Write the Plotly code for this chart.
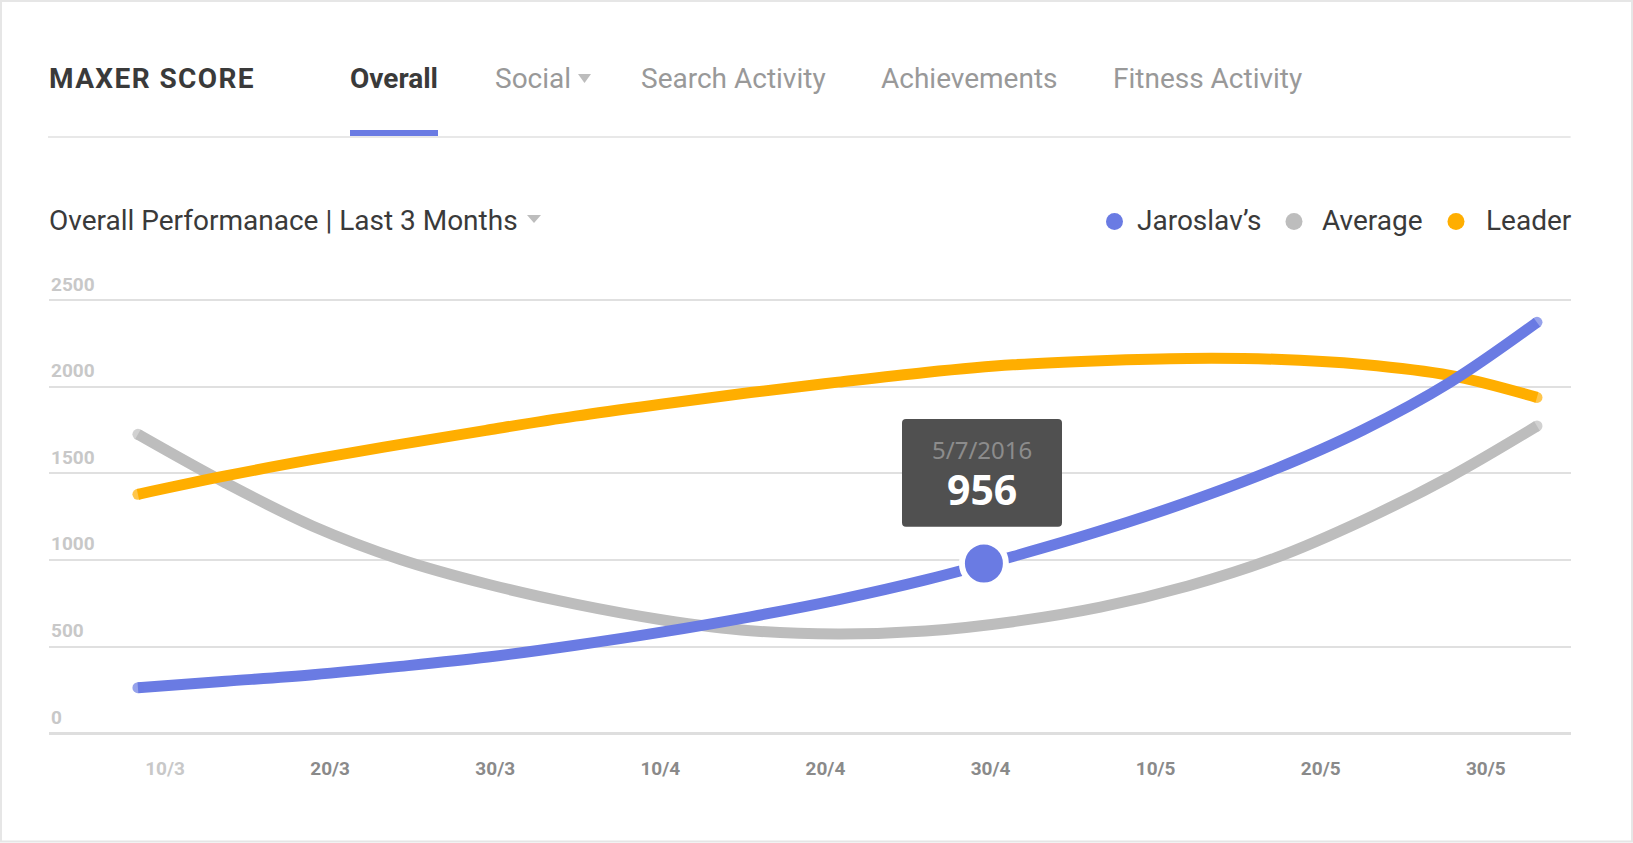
import plotly.graph_objects as go

W, H = 1633, 843
BLUE, GRAY, ORANGE = "#6a7be3", "#bdbdbd", "#ffae00"

tick_labels = ["10/3", "20/3", "30/3", "10/4", "20/4", "30/4", "10/5", "20/5", "30/5"]
y_ticks = [0, 500, 1000, 1500, 2000, 2500]

curve_x = [-0.164, 0.366, 0.896, 1.426, 1.956, 2.486, 3.016, 3.546, 4.076,
           4.606, 5.136, 5.666, 6.196, 6.726, 7.256, 7.783, 8.31]
jaroslav_y = [263, 300, 338, 386, 440, 508, 585, 672, 770, 885, 1020, 1168, 1335, 1525, 1750, 2025, 2371]
average_y = [1725, 1445, 1195, 1003, 860, 745, 654, 592, 573, 590, 644, 728, 850, 1012, 1228, 1480, 1773]
leader_y = [1379, 1485, 1580, 1667, 1750, 1830, 1900, 1966, 2026, 2082, 2126, 2150, 2163, 2158, 2128, 2065, 1938]
focus_x, focus_y = [4.96], [980]
focus_date, focus_value = "5/7/2016", "956"

L, R, T, B = 48.6, 1570.6, 298.27, 733.3
px = lambda v: v / W
py = lambda v: 1 - v / H


def series(name, xs, ys, colour):
    sizes = [11] + [0] * (len(xs) - 2) + [11]
    return go.Scatter(
        x=xs, y=ys, name=name, mode="lines+markers",
        line=dict(color=colour, width=11, shape="spline", smoothing=1.0),
        marker=dict(color=colour, size=sizes, line=dict(width=0)),
        hoverinfo="skip", showlegend=False,
    )


fig = go.Figure()
fig.add_trace(series("Average", curve_x, average_y, GRAY))
fig.add_trace(series("Leader", curve_x, leader_y, ORANGE))
fig.add_trace(series("Jaroslav's", curve_x, jaroslav_y, BLUE))
fig.add_trace(go.Scatter(
    x=focus_x, y=focus_y, mode="markers", showlegend=False, hoverinfo="skip",
    marker=dict(color=BLUE, size=44, line=dict(color="white", width=6)),
))

ann = []


def text(x, y, s, size, colour, anchor="left", weight=400, family="Roboto"):
    ann.append(dict(
        x=px(x), y=py(y), xref="paper", yref="paper", text=s, showarrow=False,
        xanchor=anchor, yanchor="middle", align=anchor, borderpad=0, borderwidth=0,
        font=dict(family=family, size=size, color=colour, weight=weight),
    ))


DARK, MUTED = "#3a3a3a", "#999999"
text(48.5, 78, "MAXER SCORE", 28, DARK, weight=700)
text(350, 78, "Overall", 28, DARK, weight=700)
text(495, 78, "Social", 28, MUTED)
text(641, 78, "Search Activity", 28, MUTED)
text(881, 78, "Achievements", 28, MUTED)
text(1113, 78, "Fitness Activity", 28, MUTED)
text(49, 220, "Overall Performanace | Last 3 Months", 28, DARK)
text(1137, 220, "Jaroslav’s", 28, DARK)
text(1322, 220, "Average", 28, DARK)
text(1486, 220, "Leader", 28, DARK)
text(982, 475,
     f'<span style="font-size:24px;color:#8c8c8c">{focus_date}</span><br>'
     f'<span style="font-size:41px;color:#ffffff"><b>{focus_value}</b></span>',
     35, "#ffffff", anchor="center", family="Noto Sans")

for v in y_ticks:
    ann.append(dict(
        x=px(L), y=v, xref="paper", yref="y", text=str(v), showarrow=False,
        xanchor="left", yanchor="middle", yshift=16,
        font=dict(family="Roboto", size=19, color="#c8c8c8", weight=700),
    ))


def rect(x0, y0, x1, y1, fill=None, line=None, lw=0):
    return dict(type="rect", xref="paper", yref="paper",
                x0=px(x0), x1=px(x1), y0=py(y0), y1=py(y1),
                fillcolor=fill, line=dict(color=line, width=lw), layer="below")


def dot(cx, cy, d, colour):
    return dict(type="circle", xref="paper", yref="paper",
                x0=px(cx - d / 2), x1=px(cx + d / 2), y0=py(cy - d / 2), y1=py(cy + d / 2),
                fillcolor=colour, line=dict(width=0))


def tri(x0, x1, y0, y1, colour):
    xm = (x0 + x1) / 2
    return dict(type="path", xref="paper", yref="paper", fillcolor=colour, line=dict(width=0),
                path=f"M {px(x0)} {py(y0)} L {px(x1)} {py(y0)} L {px(xm)} {py(y1)} Z")


shapes = [
    rect(1, 1, 1632, 841.5, "#ffffff", "#e6e6e6", 2),
    rect(48, 136, 1570.6, 138, "#e8e8e8"),
    rect(350, 130, 438, 136, BLUE),
    tri(578, 591, 74, 83, "#bdbdbd"),
    tri(527, 541, 215, 223, "#bdbdbd"),
    dot(1114.5, 221.5, 17, BLUE),
    dot(1294, 221.5, 17, GRAY),
    dot(1456, 221.5, 17, ORANGE),
]
# tooltip box with softly rounded corners
x0, x1, y0, y1, r = 902, 1062, 419, 526.7, 4
rx, ry = r / W, r / H
shapes.append(dict(
    type="path", xref="paper", yref="paper", fillcolor="#505050", line=dict(width=0), layer="above",
    path=(f"M {px(x0)+rx} {py(y0)} L {px(x1)-rx} {py(y0)} Q {px(x1)} {py(y0)} {px(x1)} {py(y0)-ry} "
          f"L {px(x1)} {py(y1)+ry} Q {px(x1)} {py(y1)} {px(x1)-rx} {py(y1)} "
          f"L {px(x0)+rx} {py(y1)} Q {px(x0)} {py(y1)} {px(x0)} {py(y1)+ry} "
          f"L {px(x0)} {py(y0)-ry} Q {px(x0)} {py(y0)} {px(x0)+rx} {py(y0)} Z"),
))

ticktext = [f'<span style="color:#c8c8c8">{tick_labels[0]}</span>'] + tick_labels[1:]

fig.update_layout(
    width=W, height=H, margin=dict(l=0, r=0, t=0, b=0),
    paper_bgcolor="white", plot_bgcolor="rgba(0,0,0,0)",
    annotations=ann, shapes=shapes, showlegend=False,
    xaxis=dict(
        domain=[px(L), px(R)], range=[(L - 165) / 165.1, (R - 165) / 165.1],
        tickmode="array", tickvals=list(range(len(tick_labels))), ticktext=ticktext,
        showgrid=False, zeroline=False, showline=False, ticks="",
        ticklabelstandoff=22,
        tickfont=dict(family="Roboto", size=19, color="#8a8a8a", weight=700),
    ),
    yaxis=dict(
        domain=[py(B), py(T)], range=[0, 2510], tickmode="array", tickvals=y_ticks,
        showticklabels=False, showgrid=True, gridcolor="#e0e0e0", gridwidth=2,
        zeroline=True, zerolinecolor="#dedede", zerolinewidth=3, showline=False, ticks="",
    ),
)

post = """
document.body.style.margin='0';document.body.style.overflow='hidden';
document.querySelectorAll('.annotation-text').forEach(function(t){
  if(t.textContent==='MAXER SCORE'){t.style.letterSpacing='1.4px';}
});
"""
fig.write_html("out.html", config={"displayModeBar": False}, post_script=post)
